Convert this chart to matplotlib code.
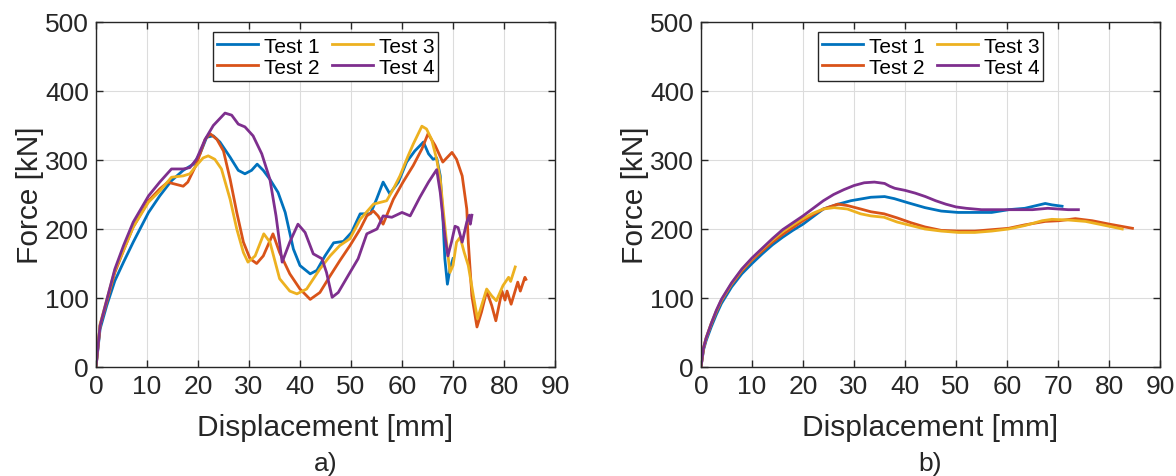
import numpy as np
import matplotlib
matplotlib.use("Agg")
import matplotlib.pyplot as plt

plt.rcParams['font.family'] = ['Liberation Sans', 'DejaVu Sans']

# MATLAB default line colours
colors = ['#0072BD', '#D95319', '#EDB120', '#7E2F8E']
labels = ['Test 1', 'Test 2', 'Test 3', 'Test 4']

# ---- panel a) values: displacement [mm], force [kN]
a1_x = [0, 0.8, 2.1, 3.7, 5.4, 7.3, 10.3, 12.5, 14.8, 17.1, 19.1, 20.4, 21.7, 23, 24.3, 26.3, 27.9, 29.2,
        30.5, 31.6, 32.8, 34.1, 35.7, 37.1, 38.7, 40, 42, 43.3, 44.9, 46.6, 48.5, 50.1, 51.8, 53.8, 55,
        56.3, 57.6, 59.3, 60.9, 62.5, 64.2, 65.2, 66.1, 66.8, 67.5, 68, 68.4, 68.9, 69.4, 70]
a1_y = [0, 55, 89, 125, 152, 181, 224, 248, 270, 285, 294, 309, 333, 335, 326, 304, 285, 280,
        285, 294, 285, 272, 253, 224, 171, 147, 135, 140, 161, 180, 182, 195, 222, 222, 243,
        268, 251, 268, 297, 313, 326, 309, 301, 303, 277, 219, 157, 120, 142, 157]

a2_x = [0, 0.8, 2.1, 3.7, 5.4, 7.3, 10.3, 12.5, 14.1, 15, 17.1, 18, 19.7, 21.4, 22.4, 23.7, 25, 26.3,
        27.6, 28.9, 30.2, 31.5, 32.8, 34.7, 36, 38, 40, 42, 43.9, 45.9, 47.8, 49.8, 51.8, 53.1, 54.4,
        55.3, 56.3, 58.3, 60.2, 62.2, 63.9, 65.1, 66.5, 68, 69.8, 70.7, 71.8, 72.7, 73, 73.7, 74.7,
        75.6, 76.6, 77.6, 78.4, 79.6, 80.2, 80.6, 81.4, 82.7, 83.2, 84.1, 84.3]
a2_y = [0, 60, 94, 137, 169, 203, 241, 258, 268, 266, 262, 268, 294, 330, 338, 330, 313, 272,
        224, 181, 157, 150, 161, 193, 166, 135, 113, 98, 108, 132, 154, 176, 200, 219, 226,
        219, 207, 243, 268, 292, 316, 338, 321, 297, 311, 301, 277, 229, 181, 103, 58,
        80, 110, 89, 67, 110, 97, 110, 91, 123, 110, 130, 127]

a3_x = [0, 0.8, 2.1, 3.7, 5.4, 7.3, 10.3, 12.5, 14.8, 17.1, 18.4, 19.7, 21, 22, 23.3, 24.6, 26.3, 27.6,
        28.9, 29.8, 31.2, 32.9, 34.1, 36, 38, 39.4, 41.3, 43.9, 45.9, 47.8, 49.8, 51.8, 54.4, 57, 58.3,
        59.6, 61.2, 62.2, 63.9, 64.8, 65.8, 66.8, 67.5, 68.2, 68.8, 69.4, 70, 70.7, 71.4, 72.2, 73, 74,
        74.8, 75.6, 76.6, 77.6, 78.5, 79.8, 80.9, 81.3, 82.2]
a3_y = [0, 62, 97, 140, 169, 203, 239, 255, 275, 277, 280, 292, 303, 306, 301, 287, 243, 200,
        166, 152, 161, 193, 181, 128, 110, 106, 113, 142, 161, 176, 186, 214, 236, 241, 258,
        277, 306, 323, 349, 345, 330, 301, 272, 219, 176, 137, 147, 181, 188, 166, 147, 103,
        70, 89, 113, 103, 96, 118, 130, 124, 145]

a4_x = [0, 0.8, 2.1, 3.7, 5.4, 7.3, 10.3, 12.5, 14.8, 17.1, 18.4, 19.7, 21.4, 23, 25.3, 26.6, 27.9, 29.2,
        30.8, 32.5, 34.1, 35.3, 36.5, 38, 39.6, 41, 42.6, 44.3, 45.2, 46.3, 47.5, 49.8, 51.4, 53.1,
        55.1, 56.3, 58, 60, 61.6, 63.5, 65.2, 66.8, 67.5, 68.4, 69, 69.7, 70.4, 71, 71.8, 72.7, 73.2,
        73.4, 73.7]
a4_y = [0, 60, 97, 142, 176, 210, 248, 268, 287, 287, 289, 301, 330, 350, 368, 365, 352, 348,
        335, 309, 272, 219, 152, 181, 207, 195, 164, 157, 137, 101, 108, 137, 157, 193,
        200, 219, 217, 224, 219, 246, 268, 286, 253, 190, 161, 181, 204, 202, 181, 210, 220,
        207, 220]

# ---- panel b)
b1_x = [0, 0.5, 1, 2, 3, 4, 6, 8, 10, 12, 14, 16, 18, 20, 22, 24, 26.9, 29.4, 33.3, 36, 37.9, 40.6,
        43.9, 47.1, 50.4, 53.6, 57, 60.3, 63.5, 67.5, 68.8, 70.8]
b1_y = [0, 25, 38, 58, 76, 92, 116, 135, 150, 164, 177, 188, 198, 207, 218, 229, 236, 241, 246, 247,
        244, 238, 231, 226, 224, 224, 224, 228, 230, 237, 235, 233]

b2_x = [0, 0.5, 1, 2, 3, 4, 6, 8, 10, 12, 14, 16, 18, 20, 22, 24, 26.8, 28.7, 31.3, 33.3, 35.9, 38.5,
        41.2, 43.9, 47.1, 50.5, 53.7, 57, 60.3, 63.5, 67.5, 70.2, 73.4, 76.7, 80.1, 84.6]
b2_y = [0, 27, 41, 62, 80, 96, 120, 139, 155, 168, 181, 192, 202, 212, 221, 229, 236, 234, 229, 225,
        222, 216, 209, 203, 198, 197, 197, 199, 201, 206, 211, 212, 215, 212, 207, 201]

b3_x = [0, 0.5, 1, 2, 3, 4, 6, 8, 10, 12, 14, 16, 18, 20, 22, 24, 26.1, 28.7, 31.3, 33.3, 35.9, 38.5,
        41.2, 43.9, 47.1, 50.5, 53.7, 57, 60.3, 63.5, 66.9, 68.8, 72.1, 75.4, 78.7, 82.6]
b3_y = [0, 28, 42, 63, 81, 97, 121, 141, 157, 171, 184, 196, 206, 215, 223, 229, 231, 229, 222, 219,
        217, 210, 205, 200, 197, 195, 195, 197, 200, 205, 212, 214, 213, 211, 206, 200]

b4_x = [0, 0.5, 1, 2, 3, 4, 6, 8, 10, 12, 14, 16, 18, 20, 22, 24, 26, 28, 30, 32, 34, 36, 37, 38, 40,
        42, 44, 46, 48, 50, 52, 55, 60, 65, 68, 70, 72, 74]
b4_y = [0, 28, 42, 63, 82, 98, 122, 142, 158, 172, 186, 199, 209, 219, 230, 241, 250, 257, 263, 267,
        268, 266, 262, 259, 256, 252, 247, 241, 236, 232, 230, 228, 228, 228, 230, 229, 228, 228]

panels = [
    ('a)', [(a1_x, a1_y), (a2_x, a2_y), (a3_x, a3_y), (a4_x, a4_y)]),
    ('b)', [(b1_x, b1_y), (b2_x, b2_y), (b3_x, b3_y), (b4_x, b4_y)]),
]

W, H = 1176, 477
fig = plt.figure(figsize=(W / 100, H / 100), dpi=100)
lefts = [96, 701]
ax_w, ax_top, ax_bot = 459, 23, 368

for (cap, series), left in zip(panels, lefts):
    ax = fig.add_axes([left / W, 1 - ax_bot / H, ax_w / W, (ax_bot - ax_top) / H])
    for (x, y), c, lab in zip(series, colors, labels):
        ax.plot(x, y, color=c, lw=2.0, label=lab, solid_joinstyle='round')
    ax.set_xlim(0, 90)
    ax.set_ylim(0, 500)
    ax.set_xticks(np.arange(0, 91, 10))
    ax.set_yticks(np.arange(0, 501, 100))
    ax.grid(True, color='#dcdcdc', lw=0.8)
    ax.set_axisbelow(True)
    for s in ax.spines.values():
        s.set_color('#262626')
        s.set_linewidth(1.0)
    ax.tick_params(direction='in', top=True, right=True, length=5, width=1,
                   color='#262626', labelcolor='#262626', labelsize=19, pad=5)
    ax.set_xlabel('Displacement [mm]', fontsize=21.5, color='#262626', labelpad=11)
    ax.set_ylabel('Force [kN]', fontsize=21.5, color='#262626', labelpad=1)
    leg = ax.legend(ncol=2, loc='upper center', bbox_to_anchor=(0.5, 1.0), fontsize=15,
                    frameon=True, fancybox=False, framealpha=1, edgecolor='#262626',
                    handlelength=2.0, handletextpad=0.25, columnspacing=0.6,
                    labelspacing=0.1, borderpad=0.2, borderaxespad=0.5)
    leg.get_frame().set_linewidth(1.0)
    fig.text((left + ax_w / 2) / W, 1 - 464 / H, cap, ha='center', va='center',
             fontsize=19, color='#262626')

fig.savefig('out.png', dpi=100)
